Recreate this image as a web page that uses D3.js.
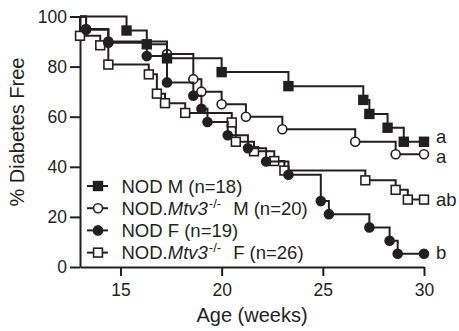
<!DOCTYPE html>
<html>
<head>
<meta charset="utf-8">
<script src="https://cdn.jsdelivr.net/npm/d3@7"></script>
<style>
body { margin: 0; background: #fff; }
text { font-family: "Liberation Sans", Arial, sans-serif; fill: #231f20; }
</style>
</head>
<body>
<script>
// data: weeks at which each curve drops, and % free after the drop
const ageTicks = [15, 20, 25, 30];
const pctTicks = [0, 20, 40, 60, 80, 100];
const startWeek = 13, endWeek = 30;

const nodM_weeks = [15.3, 16.3, 17.3, 20.0, 23.3, 27.0, 27.3, 28.2, 29.0];
const nodM_pct   = [94.4, 88.9, 83.3, 77.8, 72.2, 66.7, 61.1, 55.6, 50.0];

const mtvM_weeks = [13.3, 14.4, 17.3, 18.6, 19.0, 20.0, 21.2, 23.0, 26.6, 28.6];
const mtvM_pct   = [95, 90, 85, 75, 70, 65, 60, 55, 50, 45];

const nodF_weeks = [13.3, 14.4, 16.3, 17.3, 18.6, 19.0, 19.3, 20.3, 21.3, 22.2, 23.3, 24.9, 25.3, 27.3, 28.3, 28.7];
const nodF_pct   = [94.7, 89.5, 84.2, 73.7, 68.4, 63.2, 57.9, 52.6, 47.4, 42.1, 36.8, 26.3, 21.1, 15.8, 10.5, 5.3];

const mtvF_weeks = [13.0, 14.0, 14.4, 16.4, 16.8, 17.2, 18.2, 20.5, 20.7, 21.6, 22.6, 23.1, 27.1, 28.6, 29.2];
const mtvF_pct   = [92.3, 88.5, 80.8, 76.9, 69.2, 65.4, 61.5, 57.7, 50.0, 46.2, 42.3, 38.5, 34.6, 30.8, 26.9];

const groupLabels = ["NOD M (n=18)", "NOD.Mtv3-/-  M (n=20)", "NOD F (n=19)", "NOD.Mtv3-/-  F (n=26)"];
const sigLetters = ["a", "a", "b", "ab"];

const Width = 459, Height = 331;
const ink = "#231f20";

const svg = d3.select(document.body).append("svg")
    .attr("width", Width).attr("height", Height);

const xScale = d3.scaleLinear().domain([startWeek, endWeek]).range([80, 424]);
const yScale = d3.scaleLinear().domain([0, 100]).range([267, 16.5]);

// axes
const gx = svg.append("g").attr("transform", "translate(0,267)")
    .call(d3.axisBottom(xScale).tickValues(ageTicks).tickSize(9).tickSizeOuter(0).tickPadding(8));
const gy = svg.append("g").attr("transform", "translate(80,0)")
    .call(d3.axisLeft(yScale).tickValues(pctTicks).tickSize(10).tickSizeOuter(0).tickPadding(3));
[gx, gy].forEach(g => {
    g.selectAll("path, line").attr("stroke", ink).attr("stroke-width", 2);
    g.selectAll("text").attr("font-size", 17.5).attr("fill", ink)
        .attr("font-family", "'Liberation Sans', Arial, sans-serif");
});

svg.append("text").attr("x", 252).attr("y", 322).attr("text-anchor", "middle")
    .attr("font-size", 20).text("Age (weeks)");
svg.append("text").attr("transform", "translate(24,132) rotate(-90)")
    .attr("text-anchor", "middle").attr("font-size", 20).text("% Diabetes Free");

// series, drawn back to front
const series = [
    {idx: 3, weeks: mtvF_weeks, pct: mtvF_pct, shape: "square", fill: "#fff", dy: 6},
    {idx: 1, weeks: mtvM_weeks, pct: mtvM_pct, shape: "circle", fill: "#fff", dy: 9},
    {idx: 2, weeks: nodF_weeks, pct: nodF_pct, shape: "circle", fill: ink, dy: 5},
    {idx: 0, weeks: nodM_weeks, pct: nodM_pct, shape: "square", fill: ink, dy: 1}
];

const stepLine = d3.line().x(d => xScale(d[0])).y(d => yScale(d[1])).curve(d3.curveStepAfter);

function drawMarker(g, shape, fill, cx, cy) {
    if (shape === "square") {
        g.append("rect").attr("x", cx - 4.4).attr("y", cy - 4.4)
            .attr("width", 8.8).attr("height", 8.8)
            .attr("fill", fill).attr("stroke", ink).attr("stroke-width", 1.6);
    } else {
        g.append("circle").attr("cx", cx).attr("cy", cy).attr("r", 4.5)
            .attr("fill", fill).attr("stroke", ink).attr("stroke-width", 1.6);
    }
}

series.forEach(s => {
    const last = s.pct[s.pct.length - 1];
    const pts = [[startWeek, 100]].concat(s.weeks.map((w, i) => [w, s.pct[i]]), [[endWeek, last]]);
    const g = svg.append("g");
    g.append("path").attr("d", stepLine(pts)).attr("fill", "none")
        .attr("stroke", ink).attr("stroke-width", 2);
    pts.slice(1).forEach(p => drawMarker(g, s.shape, s.fill, xScale(p[0]), yScale(p[1])));
    svg.append("text").attr("x", xScale(endWeek) + 12).attr("y", yScale(last) + s.dy)
        .attr("font-size", 18.5).text(sigLetters[s.idx]);
});

// legend
const legendShapes = [["square", ink], ["circle", "#fff"], ["circle", ink], ["square", "#fff"]];
const legend = svg.append("g");
groupLabels.forEach((lab, i) => {
    const base = 192.5 + i * 22.2;
    const cy = base - 6.5;
    legend.append("line").attr("x1", 87).attr("x2", 108).attr("y1", cy).attr("y2", cy)
        .attr("stroke", ink).attr("stroke-width", 2);
    drawMarker(legend, legendShapes[i][0], legendShapes[i][1], 98, cy);
    const t = legend.append("text").attr("x", 121.5).attr("y", base).attr("font-size", 18.5);
    if (lab.indexOf("Mtv3") >= 0) {
        const rest = lab.split("-/-")[1];
        t.append("tspan").text("NOD.");
        t.append("tspan").attr("font-style", "italic").text("Mtv3");
        t.append("tspan").attr("font-size", 13).attr("dy", -7).attr("dx", 1).text("-/-");
        t.append("tspan").attr("dy", 7).attr("dx", 12).text(rest.trim());
    } else {
        t.text(lab);
    }
});
</script>
</body>
</html>
